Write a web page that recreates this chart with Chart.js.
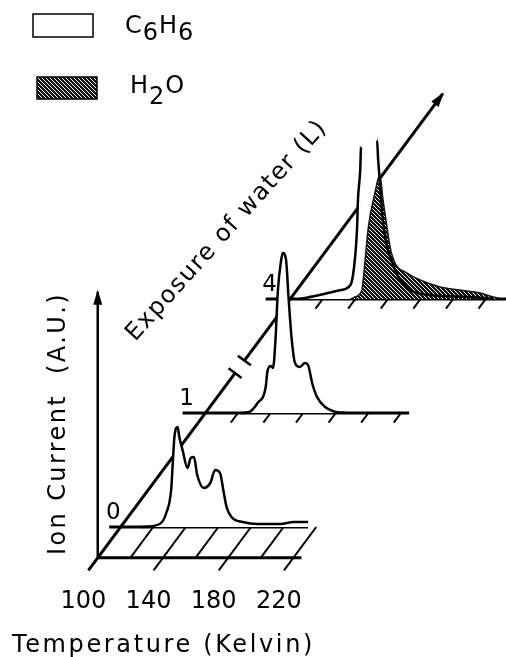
<!DOCTYPE html>
<html>
<head>
<meta charset="utf-8">
<script src="https://cdn.jsdelivr.net/npm/chart.js"></script>
<style>
  html, body { margin: 0; padding: 0; background: #fff; }
  #wrap { position: relative; width: 506px; height: 657px; }
</style>
</head>
<body>
<div id="wrap"><canvas id="myChart"></canvas></div>
<script>
// water exposure (L), one row of the waterfall per exposure
const exposures = ['0', '1', '4'];

// C6H6 desorption, 0 L water
const tempC6H6_0 = [113, 124, 128, 131, 132, 133, 135, 136, 138, 141, 143, 145, 147, 151, 155, 158, 161, 163, 165, 168, 175, 184, 198, 206, 215];
const ionC6H6_0 = [0, 3, 14, 37, 64, 90, 100, 90, 77, 59, 69, 70, 52, 39, 44, 57, 54, 37, 20, 10, 5, 3, 3, 5, 5];

// C6H6 desorption, 1 L water
const tempC6H6_1 = [122, 127, 132, 137, 138, 140, 141.5, 143, 144.5, 146.5, 147.5, 149.5, 151, 153, 155, 158, 161, 163, 165.5, 168.5, 173.5, 180, 186];
const ionC6H6_1 = [0, 1, 10, 26, 41, 47, 45, 73, 123, 153, 160, 153, 116, 73, 50, 46, 50, 48, 30, 16, 6, 1, 0];

// C6H6 desorption, 4 L water (peak runs off scale)
const tempC6H6_4 = [106, 118, 131, 137, 139, 141, 141.6, 143, 143.5, 153.3, 154, 155, 156.3, 157.6, 160, 162.5, 167.4, 173.5, 186, 210, 225];
const ionC6H6_4 = [0, 4, 9, 14, 29, 69, 99, 129, 152, 159, 139, 119, 89, 69, 49, 37, 19, 9, 4, 2, 0];
const OFF_SCALE = 150;

// H2O desorption, 4 L water
const tempH2O_4 = [137, 139.8, 144, 146, 148, 152, 155, 157, 159.4, 161.3, 164.3, 171.7, 179.7, 192, 204, 216.5, 224.5, 230];
const ionH2O_4 = [0, 2, 9, 39, 72, 106, 124, 99, 72, 52, 36, 26, 19, 12, 9, 6, 2, 0];

// temperature axis
const tempTicks = [100, 140, 180, 220];
const hatchTemps = [120, 140, 160, 180, 200, 220];
const rowStart = [93, 86, 85];
const rowEnd = [215, 225, 240];

// pseudo-3D geometry: shift of each exposure row in (K, intensity)
const DEPTH_T = 52;
const DEPTH_I = 114;
const FRONT = -0.27;
const AXIS_TOP = 266;

function series(temps, ions, row) {
  return temps.map((t, i) => ({ x: t + row * DEPTH_T, y: ions[i] + row * DEPTH_I }));
}

const canvas = document.getElementById('myChart');

function hatchPattern() {
  const c = document.createElement('canvas');
  c.width = 4; c.height = 4;
  const g = c.getContext('2d');
  g.fillStyle = '#111';
  g.fillRect(0, 0, 4, 4);
  g.fillStyle = '#fff';
  for (let i = 0; i < 4; i++) g.fillRect(i, i, 1, 1);
  return canvas.getContext('2d').createPattern(c, 'repeat');
}
const hatch = hatchPattern();

const FONT = '"DejaVu Sans", sans-serif';

function fitText(ctx, text, cx, cy, width, angle) {
  ctx.save();
  ctx.translate(cx, cy);
  ctx.rotate(angle);
  ctx.textAlign = 'left';
  ctx.textBaseline = 'alphabetic';
  const w = ctx.measureText(text).width;
  if ('letterSpacing' in ctx) ctx.letterSpacing = ((width - w) / text.length) + 'px';
  ctx.fillText(text, -width / 2, 0);
  ctx.restore();
}

function formula(ctx, parts, x, base, sub) {
  for (const [s, low] of parts) {
    ctx.fillText(s, x, base + (low ? sub : 0));
    x += ctx.measureText(s).width + 1;
  }
}

const frame = {
  id: 'frame',
  beforeDraw(chart) {
    const { ctx, scales: { x, y } } = chart;
    const P = (t, ion, row) => [x.getPixelForValue(t + row * DEPTH_T), y.getPixelForValue(ion + row * DEPTH_I)];
    const seg = (a, b, w) => {
      ctx.lineWidth = w;
      ctx.beginPath();
      ctx.moveTo(a[0], a[1]);
      ctx.lineTo(b[0], b[1]);
      ctx.stroke();
    };
    const arrow = (from, tip) => {
      const dx = tip[0] - from[0], dy = tip[1] - from[1], len = Math.hypot(dx, dy);
      const ux = dx / len, uy = dy / len;
      ctx.beginPath();
      ctx.moveTo(tip[0] + ux * 2, tip[1] + uy * 2);
      ctx.lineTo(tip[0] - ux * 13 - uy * 4.5, tip[1] - uy * 13 + ux * 4.5);
      ctx.lineTo(tip[0] - ux * 13 + uy * 4.5, tip[1] - uy * 13 - ux * 4.5);
      ctx.closePath();
      ctx.fill();
    };
    ctx.save();
    ctx.strokeStyle = '#000';
    ctx.fillStyle = '#000';

    // floor front edge and ion current axis
    const origin = P(100, 0, FRONT);
    seg(origin, P(225, 0, FRONT), 3);
    const top = P(100, AXIS_TOP, FRONT);
    seg(origin, top, 2.5);
    arrow(origin, top);

    // exposure axis, broken between 1 and 4 L
    seg(P(100, 0, -0.38), P(100, 0, 1.35), 3);
    seg(P(100, 0, 1.46), P(100, 0, 3.8), 3);
    arrow(P(100, 0, 1.46), P(100, 0, 3.8));
    for (const r of [1.35, 1.46]) {
      const c = P(100, 0, r);
      seg([c[0] - 6.5, c[1] - 4.8], [c[0] + 6.5, c[1] + 4.8], 2.5);
    }

    // row baselines
    exposures.forEach((e, r) => seg(P(rowStart[r], 0, r), P(rowEnd[r], 0, r), 3));

    // hatching under the first row and ticks on the others
    for (const t of hatchTemps) {
      seg(P(t, 0, 0), P(t, 0, tempTicks.includes(t) ? FRONT - 0.11 : FRONT), 2);
      for (let r = 1; r < exposures.length; r++) seg(P(t, 0, r), P(t, 0, r - 0.085), 2);
    }
    ctx.restore();
  },
  afterDraw(chart) {
    const { ctx, scales: { x, y } } = chart;
    const P = (t, ion, row) => [x.getPixelForValue(t + row * DEPTH_T), y.getPixelForValue(ion + row * DEPTH_I)];
    ctx.save();
    ctx.fillStyle = '#000';
    ctx.strokeStyle = '#000';

    // tick labels
    ctx.font = '24px ' + FONT;
    ctx.textAlign = 'center';
    ctx.textBaseline = 'alphabetic';
    for (const t of tempTicks) ctx.fillText(String(t), P(t, 0, FRONT - 0.17)[0], 608);

    // exposure labels
    ctx.font = '23px ' + FONT;
    exposures.forEach((e, r) => {
      const p = P(rowStart[r], 0, r);
      ctx.fillText(e, p[0] + 4, p[1] - 8);
    });

    // axis titles
    ctx.font = '24px ' + FONT;
    fitText(ctx, 'Temperature (Kelvin)', 163.5, 652, 303, 0);
    fitText(ctx, 'Ion Current  (A.U.)', 65, 423.5, 263, -Math.PI / 2);
    fitText(ctx, 'Exposure of water (L)', 231.5, 235, 288, -48 * Math.PI / 180);

    // legend
    ctx.lineWidth = 1.5;
    ctx.strokeRect(33, 14, 60, 23);
    ctx.fillStyle = hatch;
    ctx.fillRect(37, 77, 60, 22);
    ctx.strokeRect(37, 77, 60, 22);
    ctx.fillStyle = '#000';
    ctx.font = '24px ' + FONT;
    ctx.textAlign = 'left';
    formula(ctx, [['C', 0], ['6', 1], ['H', 0], ['6', 1]], 125, 33, 7);
    formula(ctx, [['H', 0], ['2', 1], ['O', 0]], 130, 93, 11);
    ctx.restore();
  }
};

const data = {
  datasets: [
    {
      label: 'C6H6 0 L',
      data: series(tempC6H6_0, ionC6H6_0, 0),
      backgroundColor: '#fff',
      fill: { value: 0 * DEPTH_I },
    },
    {
      label: 'C6H6 1 L',
      data: series(tempC6H6_1, ionC6H6_1, 1),
      backgroundColor: '#fff',
      fill: { value: 1 * DEPTH_I },
    },
    {
      label: 'H2O 4 L',
      data: series(tempH2O_4, ionH2O_4, 2),
      backgroundColor: hatch,
      borderColor: '#111',
      borderWidth: 1.5,
      fill: { value: 2 * DEPTH_I },
    },
    {
      label: 'C6H6 4 L',
      data: series(tempC6H6_4, ionC6H6_4, 2),
      backgroundColor: '#fff',
      fill: { value: 2 * DEPTH_I },
      segment: {
        borderColor: c => (ionC6H6_4[c.p0DataIndex] >= OFF_SCALE && ionC6H6_4[c.p1DataIndex] >= OFF_SCALE) ? 'rgba(0,0,0,0)' : undefined,
      },
    },
  ]
};

const config = {
  type: 'scatter',
  data: data,
  options: {
    responsive: true,
    maintainAspectRatio: false,
    animation: false,
    layout: { padding: 0 },
    datasets: {
      scatter: {
        showLine: true,
        borderColor: '#000',
        borderWidth: 2.5,
        pointRadius: 0,
        cubicInterpolationMode: 'monotone',
      }
    },
    plugins: {
      legend: { display: false },
      tooltip: { enabled: false },
      filler: { drawTime: 'beforeDatasetsDraw' },
    },
    scales: {
      x: { type: 'linear', display: false, min: 26, max: 26 + 506 / 1.63 },
      y: { type: 'linear', display: false, min: -130, max: 527 },
    }
  },
  plugins: [frame]
};

var myChart = new Chart(canvas, config);
</script>
</body>
</html>
